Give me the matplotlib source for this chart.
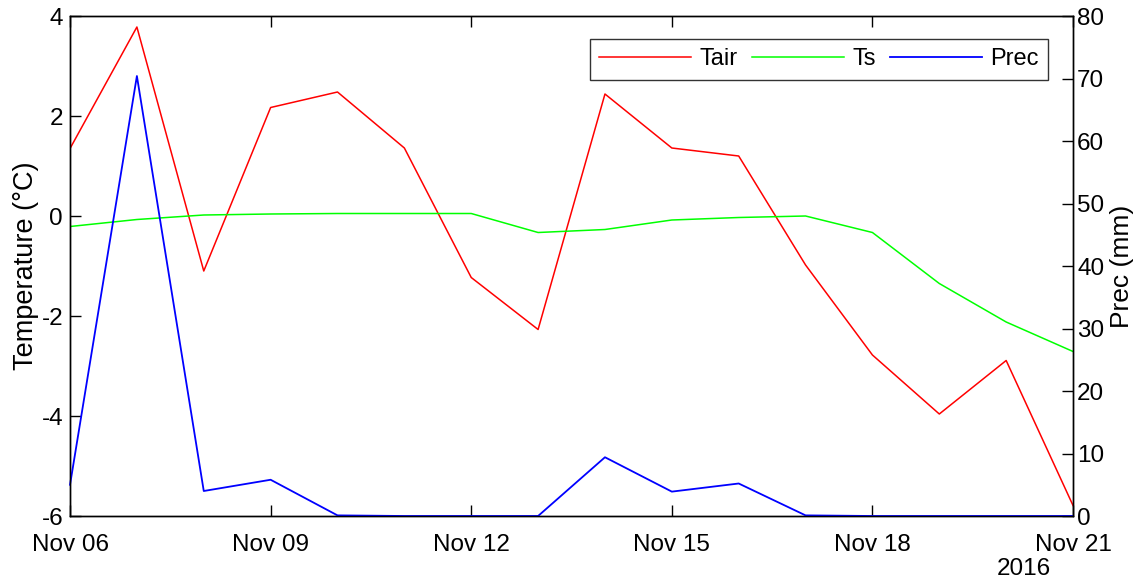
import matplotlib
matplotlib.use("Agg")
import matplotlib.pyplot as plt
import matplotlib.dates as mdates
import numpy as np
import datetime as dt

plt.rcParams['font.family'] = ['Liberation Sans', 'DejaVu Sans']
plt.rcParams['axes.unicode_minus'] = False

# Daily series, 6-21 Nov 2016
dates = [dt.datetime(2016, 11, 6) + dt.timedelta(days=i) for i in range(16)]
tair = [1.35, 3.78, -1.10, 2.17, 2.48, 1.36, -1.23, -2.27,
        2.44, 1.36, 1.20, -0.98, -2.78, -3.96, -2.89, -5.79]
ts = [-0.21, -0.07, 0.02, 0.04, 0.05, 0.05, 0.05, -0.33,
      -0.27, -0.08, -0.03, 0.00, -0.33, -1.35, -2.12, -2.71]
prec = [5.0, 70.4, 4.0, 5.8, 0.1, 0.0, 0.0, 0.0,
        9.4, 3.9, 5.2, 0.1, 0.0, 0.0, 0.0, 0.0]

fig = plt.figure(figsize=(11.48, 5.82), dpi=100)
ax = fig.add_axes([0.061, 0.1134, 0.8737, 0.8591])
ax2 = ax.twinx()

l1, = ax.plot(dates, tair, color=(1, 0, 0), lw=1.1, label='Tair')
l2, = ax.plot(dates, ts, color=(0, 1, 0), lw=1.1, label='Ts')
l3, = ax2.plot(dates, prec, color=(0, 0, 1), lw=1.3, label='Prec', clip_on=False)

ax.set_xlim(dates[0], dates[-1])
ax.set_ylim(-6, 4)
ax.set_yticks(np.arange(-6, 5, 2))
ax2.set_ylim(0, 80)
ax2.set_yticks(np.arange(0, 81, 10))

ax.xaxis.set_major_locator(mdates.DayLocator(bymonthday=[6, 9, 12, 15, 18, 21]))
ax.xaxis.set_major_formatter(mdates.DateFormatter('%b %d'))

ax.tick_params(axis='x', direction='in', top=True, length=8, width=1,
               labelsize=17.5, pad=13)
ax.tick_params(axis='y', direction='in', right=False, length=8, width=1,
               labelsize=17.5, pad=5)
ax2.tick_params(axis='y', direction='in', length=8, width=1,
                labelsize=17.5, pad=3)

for a in (ax, ax2):
    for s in a.spines.values():
        s.set_linewidth(1.0)
        s.set_color('black')

ax.set_ylabel('Temperature (°C)', fontsize=19.5, labelpad=2)
ax2.set_ylabel('Prec (mm)', fontsize=19, labelpad=4)

fig.text(1024 / 1148, 1 - 569 / 582, '2016', ha='center', va='center', fontsize=17.5)

leg = ax2.legend(handles=[l1, l2, l3], loc='upper right',
                 bbox_to_anchor=(0.975, 0.954), borderaxespad=0, ncol=3,
                 fontsize=17, handlelength=3.9, handletextpad=0.35,
                 columnspacing=0.6, fancybox=False, framealpha=1,
                 edgecolor='#333333', borderpad=0.4)
leg.get_frame().set_linewidth(1.0)

fig.savefig('out.png', dpi=100)
